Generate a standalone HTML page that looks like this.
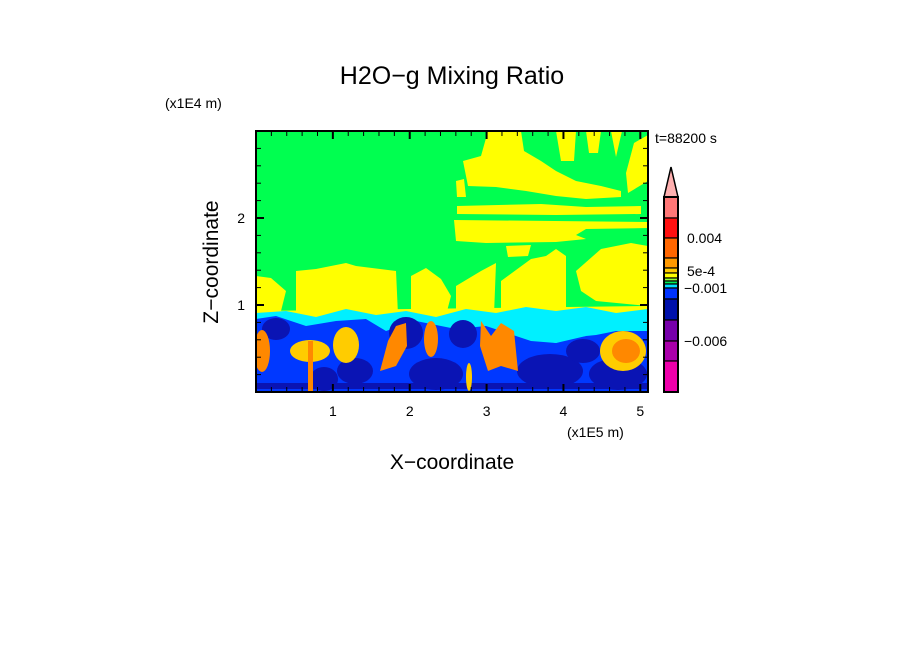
<!DOCTYPE html>
<html><head><meta charset="utf-8"><style>
html,body{margin:0;padding:0;background:#fff;}
svg{display:block;font-family:"Liberation Sans",sans-serif;}
</style></head><body>
<svg id="chart" width="904" height="654" viewBox="0 0 904 654">
<defs><clipPath id="pc"><rect x="0" y="0" width="392" height="261"/></clipPath></defs>
<text x="452" y="84" text-anchor="middle" font-size="25">H2O−g Mixing Ratio</text>
<text x="165" y="108" font-size="14">(x1E4 m)</text>
<text x="655" y="143" font-size="14">t=88200 s</text>
<text x="567" y="437" font-size="14">(x1E5 m)</text>
<text x="452" y="469" text-anchor="middle" font-size="21">X−coordinate</text>
<text transform="translate(218,262) rotate(-90)" text-anchor="middle" font-size="21">Z−coordinate</text>

<g transform="translate(256,131)" clip-path="url(#pc)">
<rect x="0" y="0" width="392" height="261" fill="#00ff50"/>
<g fill="#ffff00">
<polygon points="207,30 225,25 232,0 265,0 268,20 285,30 300,40 320,50 345,55 365,60 365,66 330,68 300,65 270,60 240,56 212,55"/>
<polygon points="200,50 208,48 210,66 201,66"/>
<polygon points="300,0 320,0 318,30 305,30"/>
<polygon points="330,0 345,0 342,22 333,22"/>
<polygon points="355,0 366,0 360,26"/>
<polygon points="378,12 392,4 392,50 372,62 370,42"/>
<polygon points="201,75 285,73 330,76 385,75 385,83 300,84 201,83"/>
<polygon points="198,89 392,91 392,97 330,98 320,104 330,108 300,111 230,112 200,110"/>
<polygon points="250,115 275,114 272,125 252,126"/>
<polygon points="0,145 15,147 30,160 25,180 0,185"/>
<polygon points="40,140 60,138 90,132 100,135 140,140 142,184 40,184"/>
<polygon points="155,145 170,137 185,148 195,165 190,184 155,184"/>
<polygon points="200,155 225,140 240,132 238,184 200,184"/>
<polygon points="245,150 275,128 290,125 300,118 310,125 310,184 245,184"/>
<polygon points="320,140 345,118 375,112 392,115 392,175 340,170 325,160"/>
<polygon points="0,180 392,175 392,190 0,190"/>
</g>
<polygon fill="#00f0ff" points="0,182 30,180 60,186 90,178 120,184 150,180 180,186 210,178 240,182 270,176 300,180 330,176 360,182 392,178 392,261 0,261"/>
<polygon fill="#0038ff" points="0,188 20,185 50,195 80,190 110,188 130,200 160,190 200,198 230,195 260,205 275,210 300,212 320,206 340,204 360,200 392,200 392,261 0,261"/>
<polygon fill="#00f0ff" points="271,182 327,182 330,205 300,212 278,208"/>
<g fill="#0a14b4">
<ellipse cx="20" cy="198" rx="14" ry="11"/>
<ellipse cx="68" cy="248" rx="14" ry="12"/>
<ellipse cx="150" cy="202" rx="17" ry="16"/>
<ellipse cx="207" cy="203" rx="14" ry="14"/>
<ellipse cx="180" cy="243" rx="27" ry="16"/>
<ellipse cx="294" cy="240" rx="33" ry="17"/>
<ellipse cx="327" cy="220" rx="17" ry="12"/>
<ellipse cx="362" cy="243" rx="29" ry="16"/>
<ellipse cx="99" cy="240" rx="18" ry="13"/>
<rect x="0" y="252" width="392" height="6"/>
</g>
<g fill="#ffcc00">
<ellipse cx="54" cy="220" rx="20" ry="11"/>
<ellipse cx="90" cy="214" rx="13" ry="18"/>
<ellipse cx="213" cy="246" rx="3" ry="14"/>
<ellipse cx="367" cy="220" rx="23" ry="20"/>
</g>
<g fill="#ff8800">
<ellipse cx="6" cy="220" rx="8" ry="21"/>
<rect x="52" y="210" width="5" height="50"/>
<polygon points="124,240 132,210 140,195 150,192 151,215 140,235"/>
<ellipse cx="175" cy="208" rx="7" ry="18"/>
<polygon points="225,190 235,205 245,192 258,200 262,240 245,235 232,240 224,215"/>
<ellipse cx="370" cy="220" rx="14" ry="12"/>
</g>
</g>
<rect x="256" y="131" width="392" height="261" fill="none" stroke="#000" stroke-width="2"/>
<g id="axes"></g>

<g>
<polygon points="664,197 678,197 671,167" fill="#ffb0b0" stroke="#000" stroke-width="1.5"/>
<g id="cbar"></g>
</g>
</svg>
<script>
const xTicks=[1,2,3,4,5];
const zTicks=[1,2];
const cbColors=["#ff7777","#ff1010","#ff6600","#ff9900","#ffcc00","#ffff00","#99ff33","#00ee55","#00ddff","#0033ff","#0011aa","#7700aa","#aa00aa","#ee00aa"];
const cbEdges=[197,218,238,258,268,273,278,281,284,288,299,320,341,361,392];
const cbLabels=["0.004","5e-4","−0.001","−0.006"];
const cbLabelY=[238,271,288,341];
const ns="http://www.w3.org/2000/svg";
const X0=256,X1=648,Y0=392,Y1=131,XMAX=5.1,ZMAX=3;
function sx(v){return X0+v*(X1-X0)/XMAX;}
function sz(v){return Y0-v*(Y0-Y1)/ZMAX;}
const ax=document.getElementById('axes');
function mkLine(x1,y1,x2,y2,w){const l=document.createElementNS(ns,'line');l.setAttribute('x1',x1);l.setAttribute('y1',y1);l.setAttribute('x2',x2);l.setAttribute('y2',y2);l.setAttribute('stroke','#000');l.setAttribute('stroke-width',w);ax.appendChild(l);return l;}
function mkText(x,y,s,a){const t=document.createElementNS(ns,'text');t.setAttribute('x',x);t.setAttribute('y',y);t.setAttribute('font-size','14');t.setAttribute('text-anchor',a);t.textContent=s;ax.appendChild(t);return t;}
for(let i=1;i*0.2<XMAX;i++){const v=i*0.2;const major=(i%5===0);const len=major?8:5;const x=sx(v);
 const a=mkLine(x,Y0,x,Y0-len,major?2:1);
 
 
 const b=mkLine(x,Y1,x,Y1+len,major?2:1);
 
 }
for(let i=1;i*0.2<ZMAX-0.01;i++){const v=i*0.2;const major=(i%5===0);const len=major?8:5;const y=sz(v);
 const a=mkLine(X0,y,X0+len,y,major?2:1);
 
 
 const b=mkLine(X1,y,X1-len,y,major?2:1);
 
 }
xTicks.forEach(v=>{const t=mkText(sx(v),416,String(v),'middle');
 
 });
zTicks.forEach(v=>{const t=mkText(245,sz(v)+5,String(v),'end');
 
 });
const cb=document.getElementById('cbar');
cbColors.forEach((c,i)=>{const r=document.createElementNS(ns,'rect');r.setAttribute('x',664);r.setAttribute('y',cbEdges[i]);r.setAttribute('width',14);r.setAttribute('height',cbEdges[i+1]-cbEdges[i]);r.setAttribute('fill',c);r.setAttribute('stroke','#000');r.setAttribute('stroke-width','1.2');
 
 
 cb.appendChild(r);});
const fr=document.createElementNS(ns,'rect');fr.setAttribute('x',664);fr.setAttribute('y',197);fr.setAttribute('width',14);fr.setAttribute('height',195);fr.setAttribute('fill','none');fr.setAttribute('stroke','#000');fr.setAttribute('stroke-width','2');


cb.appendChild(fr);
cbLabels.forEach((s,i)=>{const t=document.createElementNS(ns,'text');t.setAttribute('x',s[0]==='−'?684:687);t.setAttribute('y',cbLabelY[i]+5);t.setAttribute('font-size','14');t.textContent=s;
 
 
 cb.appendChild(t);});
</script>
</body></html>
